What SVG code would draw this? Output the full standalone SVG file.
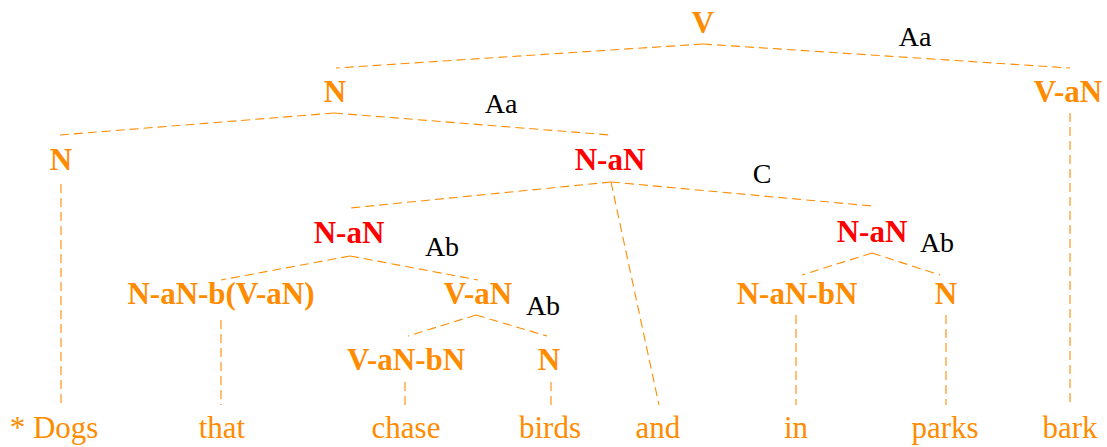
<svg xmlns="http://www.w3.org/2000/svg" width="1107" height="447" viewBox="0 0 1107 447">
<rect width="1107" height="447" fill="#fff"/>
<g id="connectors" stroke="#FF8C00" stroke-width="1.1" stroke-dasharray="9 5" fill="none">
<line x1="703" y1="44" x2="336" y2="68"/>
<line x1="703" y1="44" x2="1070" y2="68"/>
<line x1="1070" y1="113" x2="1070" y2="405"/>
<line x1="334" y1="113" x2="60" y2="135"/>
<line x1="334" y1="113" x2="610" y2="135"/>
<line x1="61" y1="184" x2="61" y2="405"/>
<line x1="611" y1="182" x2="350" y2="208"/>
<line x1="611" y1="182" x2="872" y2="206"/>
<line x1="611" y1="182" x2="659" y2="405"/>
<line x1="350" y1="256" x2="221" y2="280"/>
<line x1="350" y1="256" x2="478" y2="280"/>
<line x1="221" y1="320" x2="221" y2="405"/>
<line x1="476" y1="315" x2="408" y2="336"/>
<line x1="476" y1="315" x2="547" y2="336"/>
<line x1="405" y1="382" x2="405" y2="405"/>
<line x1="551" y1="382" x2="551" y2="405"/>
<line x1="872" y1="253" x2="802" y2="275"/>
<line x1="872" y1="253" x2="940" y2="275"/>
<line x1="796" y1="315" x2="796" y2="405"/>
<line x1="946" y1="315" x2="946" y2="405"/>
</g>
<g id="edge-labels" font-size="28" text-anchor="middle" fill="#000">
<text font-family="Liberation Serif" x="915" y="46">Aa</text>
<text font-family="Liberation Serif" x="501" y="113">Aa</text>
<text font-family="Liberation Serif" x="762" y="183">C</text>
<text font-family="Liberation Serif" x="442" y="256">Ab</text>
<text font-family="Liberation Serif" x="937" y="252">Ab</text>
<text font-family="Liberation Serif" x="543" y="315">Ab</text>
</g>
<g id="nodes" font-weight="bold" font-size="31" text-anchor="middle" fill="#FF8C00">
<g id="n-root"><text font-family="Liberation Serif" x="703" y="33">V</text></g>
<g id="n-subj"><text font-family="Liberation Serif" x="335" y="102">N</text></g>
<g id="n-pred"><text font-family="Liberation Serif" x="1068" y="102">V-aN</text></g>
<g id="n-dogs"><text font-family="Liberation Serif" x="61" y="170">N</text></g>
<g id="n-conj" fill="#FF0000"><text font-family="Liberation Serif" x="610" y="170">N-aN</text></g>
<g id="n-rel" fill="#FF0000"><text font-family="Liberation Serif" x="349" y="243">N-aN</text></g>
<g id="n-pp" fill="#FF0000"><text font-family="Liberation Serif" x="872" y="242">N-aN</text></g>
<g id="n-that"><text font-family="Liberation Serif" x="221" y="304">N-aN-b(V-aN)</text></g>
<g id="n-vp"><text font-family="Liberation Serif" x="478" y="304">V-aN</text></g>
<g id="n-in"><text font-family="Liberation Serif" x="797" y="304">N-aN-bN</text></g>
<g id="n-parks"><text font-family="Liberation Serif" x="946" y="304">N</text></g>
<g id="n-chase"><text font-family="Liberation Serif" x="406" y="370">V-aN-bN</text></g>
<g id="n-birds"><text font-family="Liberation Serif" x="549" y="370">N</text></g>
</g>
<g id="leaves" font-size="31" text-anchor="middle" fill="#FF8C00">
<text font-family="Liberation Serif" x="54" y="438">* Dogs</text>
<text font-family="Liberation Serif" x="222" y="438">that</text>
<text font-family="Liberation Serif" x="406" y="438">chase</text>
<text font-family="Liberation Serif" x="550" y="438">birds</text>
<text font-family="Liberation Serif" x="658" y="438">and</text>
<text font-family="Liberation Serif" x="796" y="438">in</text>
<text font-family="Liberation Serif" x="945" y="438">parks</text>
<text font-family="Liberation Serif" x="1070" y="438">bark</text>
</g>
</svg>
